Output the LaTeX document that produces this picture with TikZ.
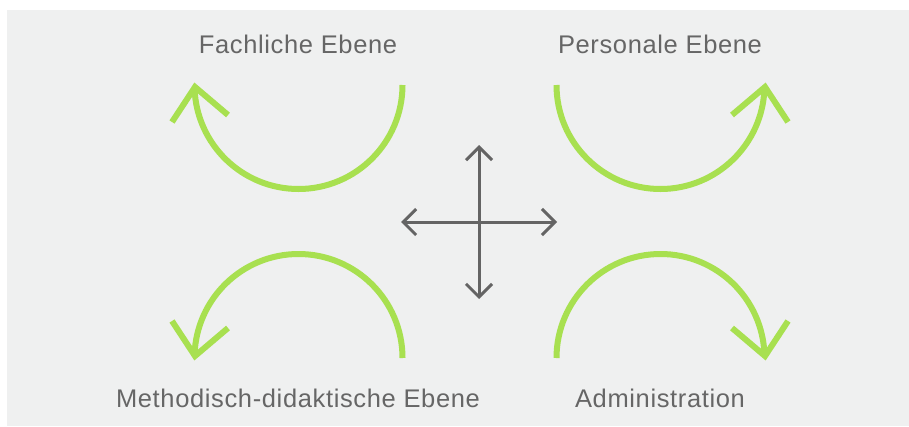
\documentclass[tikz,border=0pt]{standalone}
\usepackage{fontspec}
\setmainfont{Liberation Sans}[LetterSpace=2.5]
\usetikzlibrary{arrows.meta}
\definecolor{bg}{RGB}{239,240,240}
\definecolor{grn}{RGB}{168,224,80}
\definecolor{txt}{RGB}{102,102,102}
\definecolor{crs}{RGB}{100,100,100}
\tikzset{
  greenarc/.style={draw=grn, line width=6pt, line cap=butt},
  greenhead/.style={draw=grn, line width=6pt, line join=miter, line cap=butt},
  crossarrow/.style={draw=crs, line width=3pt, -{Straight Barb[length=13pt, width=26pt, line width=3pt]}},
  label/.style={text=txt, font=\fontsize{25.5}{30}\selectfont, anchor=base, inner sep=0pt}
}
\begin{document}
\begin{tikzpicture}[x=1pt, y=-1pt]
\useasboundingbox (0,0) rectangle (909,426);
\fill[bg] (7,10) rectangle (909,426);

% labels
\node[label] (fach) at (298,53) {Fachliche Ebene};
\node[label] (pers) at (660,53) {Personale Ebene};
\node[label] (meth) at (298,407) {Methodisch-didaktische Ebene};
\node[label] (admin) at (660,407) {Administration};

% top-left arc
\draw[greenarc] (402.5,85) arc[start angle=0, end angle=178, radius=104];
\draw[greenhead] (172,122) -- (195,87) -- (228,115);

% top-right arc
\draw[greenarc] (556.5,85) arc[start angle=180, end angle=2, radius=104];
\draw[greenhead] (732,115) -- (765,87) -- (788,122);

% bottom-left arc
\draw[greenarc] (402.5,358) arc[start angle=0, end angle=-178, radius=104];
\draw[greenhead] (172,321) -- (195,356) -- (228,328);

% bottom-right arc
\draw[greenarc] (556.5,358) arc[start angle=180, end angle=358, radius=104];
\draw[greenhead] (732,328) -- (765,356) -- (788,321);

% cross
\coordinate (c) at (479,222);
\coordinate (up) at (479,145);
\coordinate (dn) at (479,299);
\coordinate (lf) at (401,222);
\coordinate (rt) at (557,222);
\draw[crossarrow] (c) -- (up);
\draw[crossarrow] (c) -- (dn);
\draw[crossarrow] (c) -- (lf);
\draw[crossarrow] (c) -- (rt);
\end{tikzpicture}
\end{document}
